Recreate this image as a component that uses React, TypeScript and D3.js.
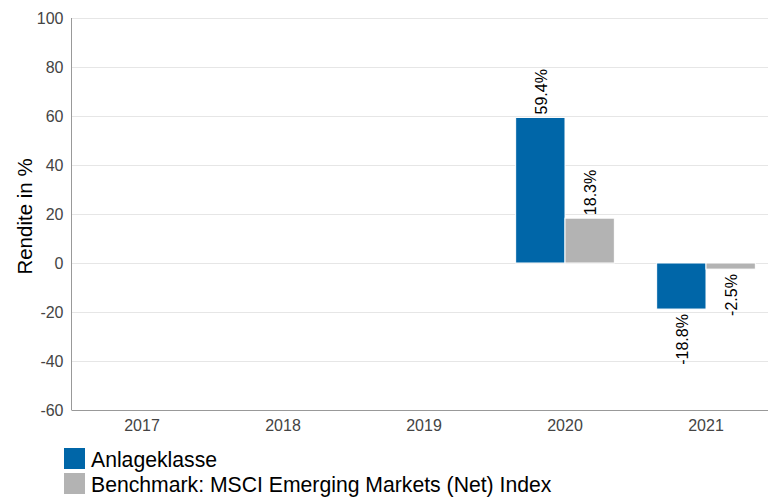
import { useEffect, useRef } from "react";
import * as d3 from "d3";

const YEARS = ["2017", "2018", "2019", "2020", "2021"];
const FUND_VALUES: Array<number | null> = [null, null, null, 59.4, -18.8];
const BENCH_VALUES: Array<number | null> = [null, null, null, 18.3, -2.5];
const Y_TICKS = [-60, -40, -20, 0, 20, 40, 60, 80, 100];
const SERIES_NAMES = ["Anlageklasse", "Benchmark: MSCI Emerging Markets (Net) Index"];

const WIDTH = 768;
const HEIGHT = 498;
const FONT = "'Liberation Sans', Arial, sans-serif";
const COLORS = ["#0066a8", "#b3b3b3"];

export default function App() {
  const svgRef = useRef<SVGSVGElement>(null);

  useEffect(() => {
    const svg = d3.select(svgRef.current);
    svg.selectAll("*").remove();

    const left = 71.5;
    const top = 18;
    const bottom = 410;

    const x = d3.scaleBand<string>().domain(YEARS).range([left, left + 705]).paddingInner(0.3).paddingOuter(0.15);
    const inner = d3.scaleBand<number>().domain([0, 1]).range([0, x.bandwidth()]);
    const y = d3.scaleLinear().domain([-60, 100]).range([bottom, top]);

    // grid
    svg
      .append("g")
      .selectAll("line")
      .data(Y_TICKS.filter((t) => t !== -60))
      .join("line")
      .attr("x1", left)
      .attr("x2", WIDTH)
      .attr("y1", (d) => Math.round(y(d)) + 0.5)
      .attr("y2", (d) => Math.round(y(d)) + 0.5)
      .attr("stroke", "#e6e6e6");

    // axis lines
    svg.append("line").attr("x1", left).attr("x2", left).attr("y1", top).attr("y2", bottom).attr("stroke", "#999");
    svg.append("line").attr("x1", left).attr("x2", WIDTH).attr("y1", bottom + 0.5).attr("y2", bottom + 0.5).attr("stroke", "#999");

    // y tick labels
    svg
      .append("g")
      .selectAll("text")
      .data(Y_TICKS)
      .join("text")
      .attr("x", left - 8)
      .attr("y", (d) => y(d) + 6)
      .attr("text-anchor", "end")
      .attr("font-size", 16)
      .attr("font-family", FONT)
      .attr("fill", "#444")
      .text((d) => d);

    // x tick labels
    svg
      .append("g")
      .selectAll("text")
      .data(YEARS)
      .join("text")
      .attr("x", (d) => x(d)! + x.bandwidth() / 2)
      .attr("y", 431)
      .attr("text-anchor", "middle")
      .attr("font-size", 16)
      .attr("font-family", FONT)
      .attr("fill", "#444")
      .text((d) => d);

    // y axis title
    svg
      .append("text")
      .attr("transform", `translate(32,${(158 + 275) / 2}) rotate(-90)`)
      .attr("text-anchor", "middle")
      .attr("font-size", 20.5)
      .attr("font-family", FONT)
      .attr("fill", "#000")
      .text("Rendite in %");

    // bars + value labels
    [FUND_VALUES, BENCH_VALUES].forEach((values, si) => {
      const g = svg.append("g");
      values.forEach((v, i) => {
        if (v === null) return;
        const bx = x(YEARS[i])! + inner(si)!;
        const y0 = y(0);
        const y1 = y(v);
        g.append("rect")
          .attr("x", bx)
          .attr("y", Math.min(y0, y1))
          .attr("width", inner.bandwidth())
          .attr("height", Math.abs(y1 - y0))
          .attr("fill", COLORS[si])
          .attr("stroke", "#fff")
          .attr("stroke-width", 1);
        const cx = bx + inner.bandwidth() / 2 + 6.5;
        const ly = v >= 0 ? y1 - 3 : y1 + 5;
        g.append("text")
          .attr("transform", `translate(${cx},${ly}) rotate(-90)`)
          .attr("text-anchor", v >= 0 ? "start" : "end")
          .attr("font-size", 16)
          .attr("font-family", FONT)
          .attr("fill", "#000")
          .text(`${v.toFixed(1)}%`);
      });
    });

    // legend
    const legend = svg.append("g");
    SERIES_NAMES.forEach((name, i) => {
      const ly = 448 + i * 25;
      legend.append("rect").attr("x", 64).attr("y", ly).attr("width", 21).attr("height", 21).attr("fill", COLORS[i]);
      legend
        .append("text")
        .attr("x", 91)
        .attr("y", ly + 18.7)
        .attr("font-size", 21.2)
        .attr("font-family", FONT)
        .attr("fill", "#000")
        .text(name);
    });
  }, []);

  return (
    <svg
      ref={svgRef}
      width={WIDTH}
      height={HEIGHT}
      style={{ position: "absolute", left: 0, top: 0, background: "#fff" }}
    />
  );
}
